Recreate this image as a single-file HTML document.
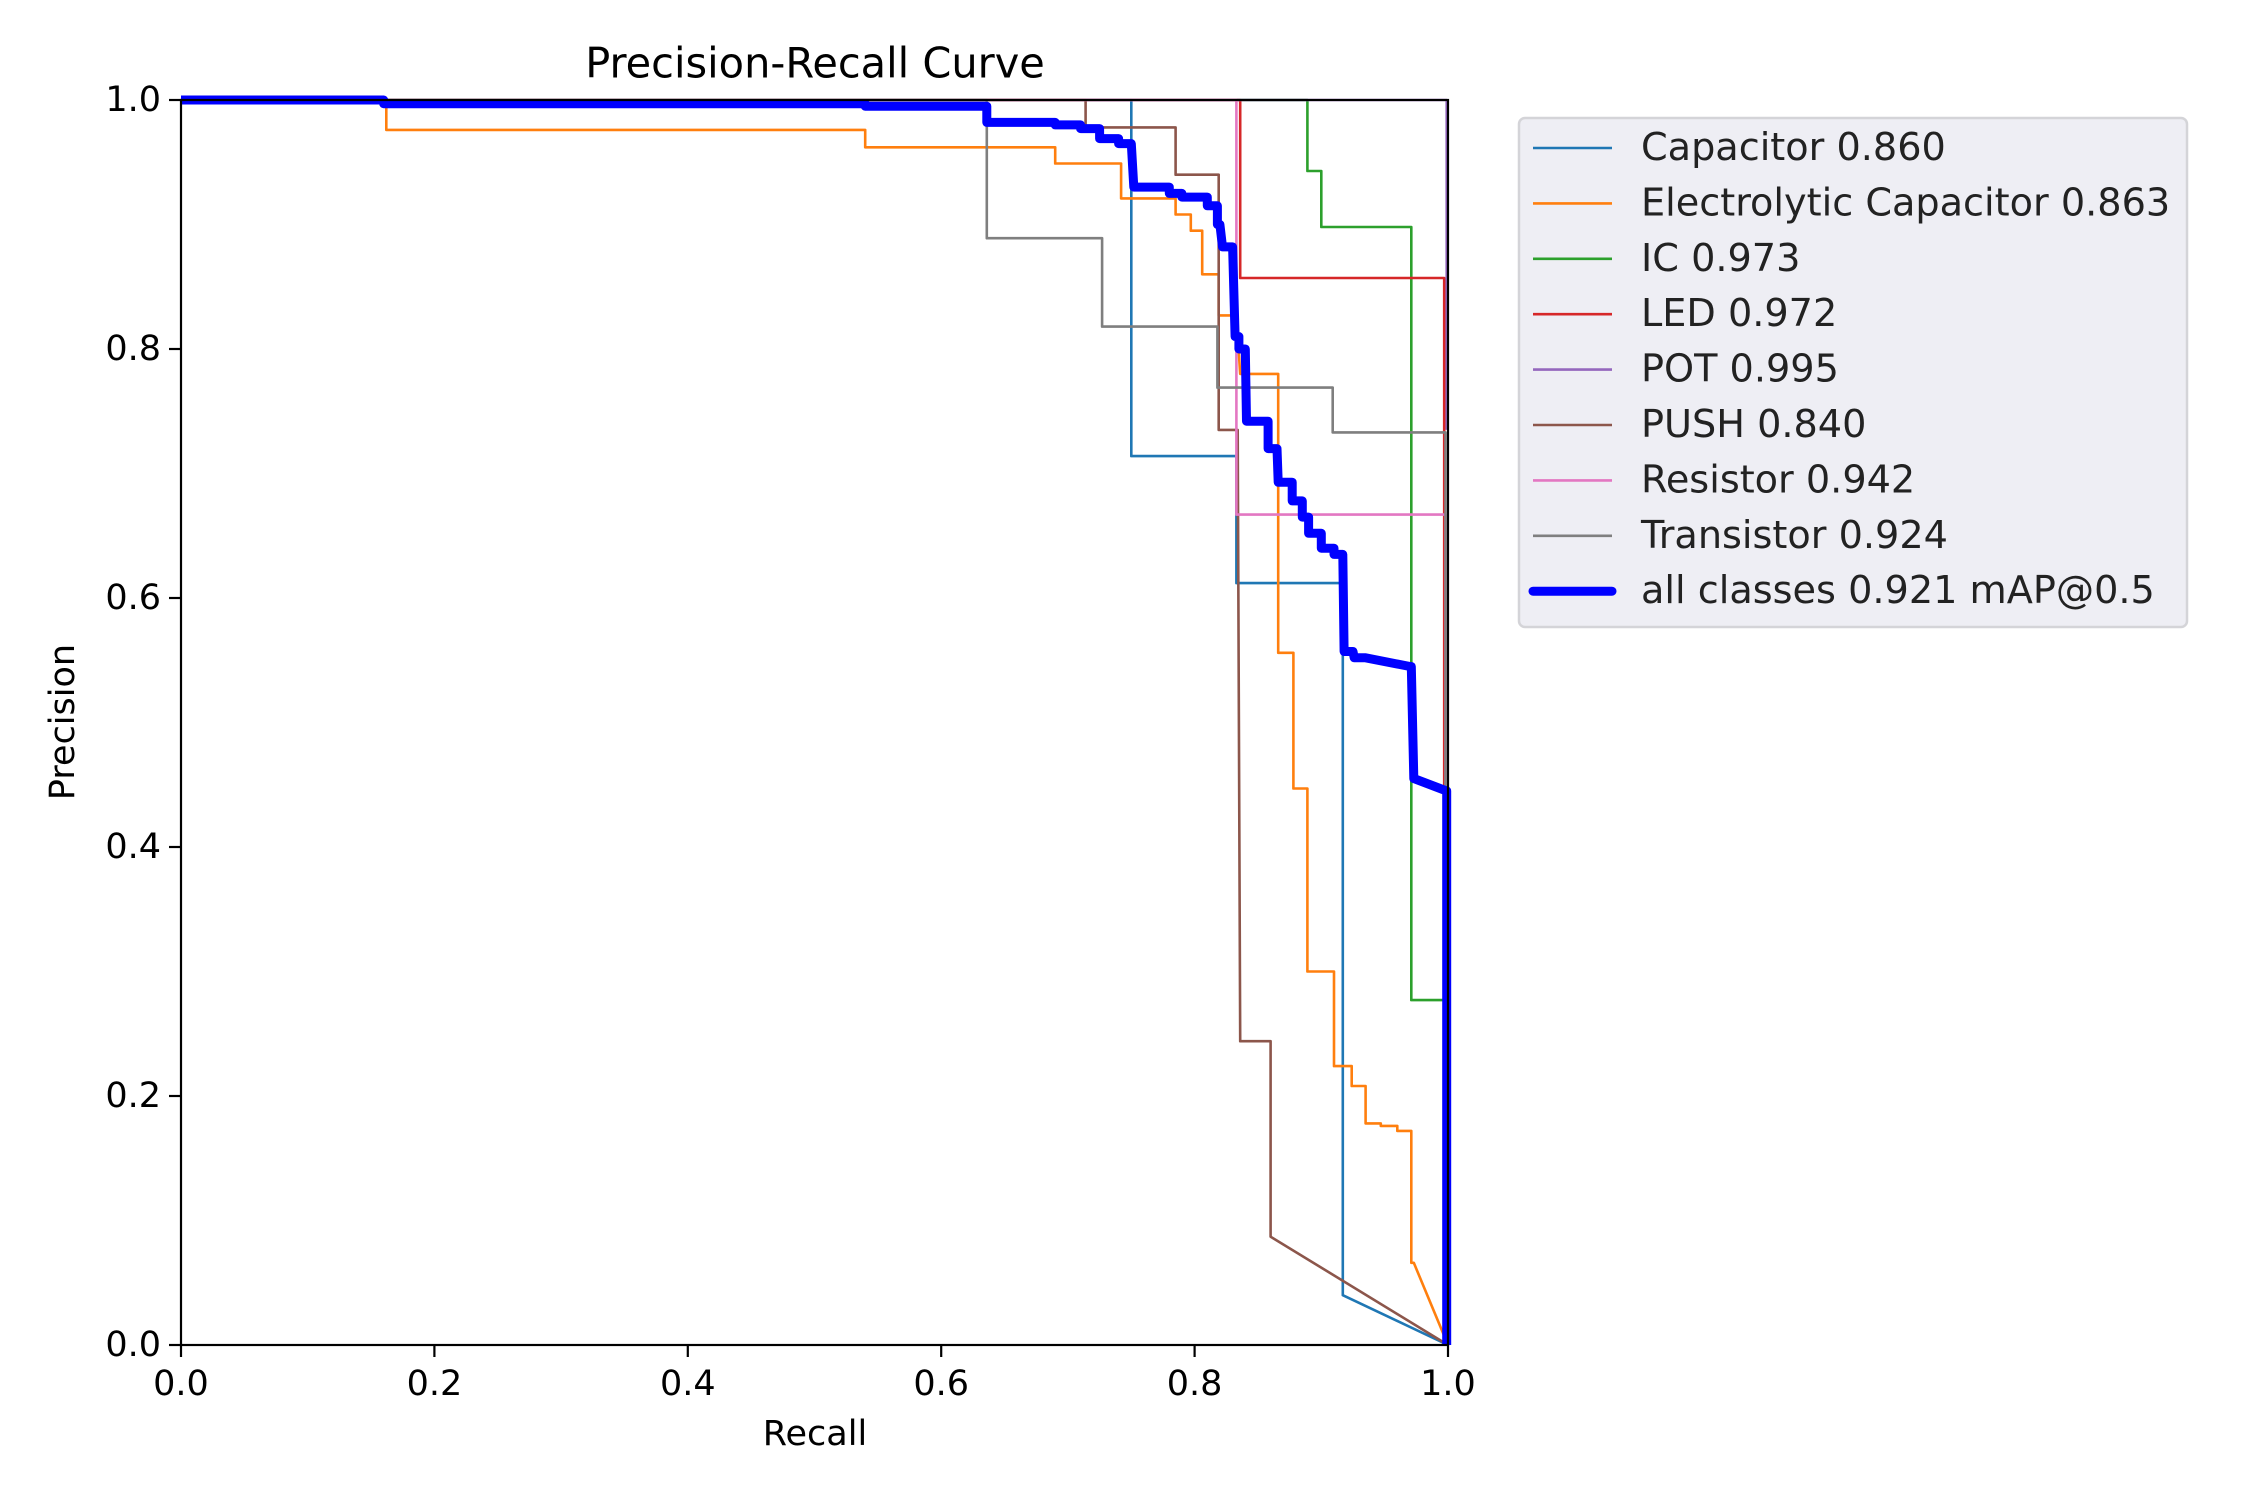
<!DOCTYPE html>
<html><head><meta charset="utf-8">
<style>
html,body{margin:0;padding:0;background:#fff;}
svg{display:block;font-family:"DejaVu Sans","Liberation Sans",sans-serif;}
</style></head>
<body>
<svg id="chart" width="2250" height="1500" viewBox="0 0 2250 1500" xmlns="http://www.w3.org/2000/svg">
<rect width="2250" height="1500" fill="#fff"/>
<text x="815" y="63" font-size="41.5" text-anchor="middle" dominant-baseline="central" fill="#000">Precision-Recall Curve</text>
<text x="815" y="1434" font-size="35" text-anchor="middle" dominant-baseline="central" fill="#000">Recall</text>
<text x="63" y="722" font-size="35" text-anchor="middle" dominant-baseline="central" fill="#000" transform="rotate(-90 63 722)">Precision</text>
<g id="plot"></g>
<g id="axes"></g>
<g id="legend"></g>
</svg>
<script>
const classNames = ["Capacitor 0.860","Electrolytic Capacitor 0.863","IC 0.973","LED 0.972","POT 0.995","PUSH 0.840","Resistor 0.942","Transistor 0.924","all classes 0.921 mAP@0.5"];
const classColors = ["#1f77b4","#ff7f0e","#2ca02c","#d62728","#9467bd","#8c564b","#e377c2","#7f7f7f","#0000ff"];
const tickValues = [0,0.2,0.4,0.6,0.8,1.0];
const tickLabels = ["0.0","0.2","0.4","0.6","0.8","1.0"];

const capR = [0,0.75,0.75,0.833,0.833,0.917,0.917,1.0];
const capP = [1,1,0.714,0.714,0.612,0.612,0.04,0];
const elecR = [0,0.162,0.162,0.54,0.54,0.69,0.69,0.742,0.742,0.785,0.785,0.797,0.797,0.806,0.806,0.819,0.819,0.833,0.836,0.866,0.866,0.878,0.878,0.889,0.889,0.91,0.91,0.924,0.924,0.935,0.935,0.947,0.947,0.96,0.96,0.971,0.971,0.973,1.0];
const elecP = [1,1,0.976,0.976,0.962,0.962,0.949,0.949,0.921,0.921,0.908,0.908,0.895,0.895,0.86,0.86,0.827,0.827,0.78,0.78,0.556,0.556,0.447,0.447,0.3,0.3,0.224,0.224,0.208,0.208,0.178,0.178,0.176,0.176,0.172,0.172,0.066,0.066,0];
const icR = [0,0.889,0.889,0.9,0.9,0.971,0.971,0.998,0.998];
const icP = [1,1,0.943,0.943,0.898,0.898,0.277,0.277,0];
const ledR = [0,0.836,0.836,0.997,0.997];
const ledP = [1,1,0.857,0.857,0];
const potR = [0,0.999,0.999];
const potP = [1,1,0.735];
const pushR = [0,0.714,0.714,0.785,0.785,0.819,0.819,0.834,0.836,0.86,0.86,1.0];
const pushP = [1,1,0.978,0.978,0.94,0.94,0.735,0.735,0.244,0.244,0.087,0];
const resR = [0,0.833,0.833,0.998,0.998];
const resP = [1,1,0.667,0.667,0];
const trR = [0,0.636,0.636,0.727,0.727,0.818,0.818,0.909,0.909,0.998,0.998];
const trP = [1,1,0.889,0.889,0.818,0.818,0.769,0.769,0.733,0.733,0];
const allR = [0,0.16,0.16,0.54,0.54,0.636,0.636,0.69,0.69,0.71,0.71,0.725,0.725,0.74,0.74,0.75,0.752,0.78,0.78,0.79,0.79,0.81,0.81,0.818,0.818,0.82,0.822,0.83,0.832,0.835,0.835,0.84,0.841,0.858,0.858,0.865,0.866,0.877,0.877,0.885,0.885,0.89,0.89,0.9,0.9,0.91,0.91,0.917,0.918,0.925,0.926,0.935,0.97,0.971,0.973,0.999,0.999];
const allP = [1,1,0.997,0.997,0.995,0.995,0.982,0.982,0.98,0.98,0.977,0.977,0.969,0.969,0.965,0.965,0.93,0.93,0.925,0.925,0.922,0.922,0.915,0.915,0.9,0.9,0.882,0.882,0.81,0.81,0.8,0.8,0.742,0.742,0.72,0.72,0.693,0.693,0.678,0.678,0.665,0.665,0.652,0.652,0.64,0.64,0.635,0.635,0.557,0.557,0.552,0.552,0.545,0.545,0.455,0.445,0];

const seriesR = [capR,elecR,icR,ledR,potR,pushR,resR,trR,allR];
const seriesP = [capP,elecP,icP,ledP,potP,pushP,resP,trP,allP];

const X0=181, X1=1448, Y0=1345, Y1=100;
function xs(v){return X0+(X1-X0)*v;}
function ys(v){return Y0-(Y0-Y1)*v;}
const NS="http://www.w3.org/2000/svg";
const plot=document.getElementById('plot');
const axes=document.getElementById('axes');
const legend=document.getElementById('legend');
const slugs=["capacitor","electrolytic-capacitor","ic","led","pot","push","resistor","transistor","all-classes"];

for(let i=0;i<seriesR.length;i++){
  const p=document.createElementNS(NS,'polyline');
  const pts=seriesR[i].map((r,j)=>xs(r).toFixed(1)+','+ys(seriesP[i][j]).toFixed(1)).join(' ');
  p.setAttribute('points',pts);
  p.setAttribute('fill','none');
  p.setAttribute('stroke',classColors[i]);
  p.setAttribute('stroke-width', i===8?9:2.6);
  p.setAttribute('stroke-linejoin','round');
  
  
  plot.appendChild(p);
}

const frame=document.createElementNS(NS,'rect');
frame.setAttribute('x',X0);frame.setAttribute('y',Y1);
frame.setAttribute('width',X1-X0);frame.setAttribute('height',Y0-Y1);
frame.setAttribute('fill','none');frame.setAttribute('stroke','#000');frame.setAttribute('stroke-width','2.2');


axes.appendChild(frame);

for(let k=0;k<tickValues.length;k++){
  const x=xs(tickValues[k]), y=ys(tickValues[k]);
  const tx=document.createElementNS(NS,'line');
  tx.setAttribute('x1',x);tx.setAttribute('x2',x);tx.setAttribute('y1',Y0);tx.setAttribute('y2',Y0+12);
  tx.setAttribute('stroke','#000');tx.setAttribute('stroke-width','2.2');
  
  
  axes.appendChild(tx);
  const lx=document.createElementNS(NS,'text');
  lx.setAttribute('x',x);lx.setAttribute('y',1384);lx.setAttribute('font-size','35');
  lx.setAttribute('text-anchor','middle');lx.setAttribute('dominant-baseline','central');
  lx.textContent=tickLabels[k];
  
  
  axes.appendChild(lx);
  const ty=document.createElementNS(NS,'line');
  ty.setAttribute('x1',X0-12);ty.setAttribute('x2',X0);ty.setAttribute('y1',y);ty.setAttribute('y2',y);
  ty.setAttribute('stroke','#000');ty.setAttribute('stroke-width','2.2');
  
  
  axes.appendChild(ty);
  const ly=document.createElementNS(NS,'text');
  ly.setAttribute('x',X0-20);ly.setAttribute('y',y);ly.setAttribute('font-size','35');
  ly.setAttribute('text-anchor','end');ly.setAttribute('dominant-baseline','central');
  ly.textContent=tickLabels[k];
  
  
  axes.appendChild(ly);
}

const box=document.createElementNS(NS,'rect');
box.setAttribute('x',1519);box.setAttribute('y',118);box.setAttribute('width',668);box.setAttribute('height',509);
box.setAttribute('rx',6);box.setAttribute('fill','#eeeef4');box.setAttribute('stroke','#d4d4d8');box.setAttribute('stroke-width','2.5');


legend.appendChild(box);
for(let i=0;i<classNames.length;i++){
  const y=148+55.4*i;
  const l=document.createElementNS(NS,'line');
  l.setAttribute('x1',1533);l.setAttribute('x2',1612);l.setAttribute('y1',y);l.setAttribute('y2',y);
  l.setAttribute('stroke',classColors[i]);l.setAttribute('stroke-width',i===8?9:2.6);
  l.setAttribute('stroke-linecap',i===8?'round':'butt');
  
  
  legend.appendChild(l);
  const t=document.createElementNS(NS,'text');
  t.setAttribute('x',1641);t.setAttribute('y',y);t.setAttribute('font-size','38.2');
  t.setAttribute('dominant-baseline','central');t.setAttribute('fill','#222');
  t.textContent=classNames[i];
  
  
  legend.appendChild(t);
}
</script>
</body></html>
